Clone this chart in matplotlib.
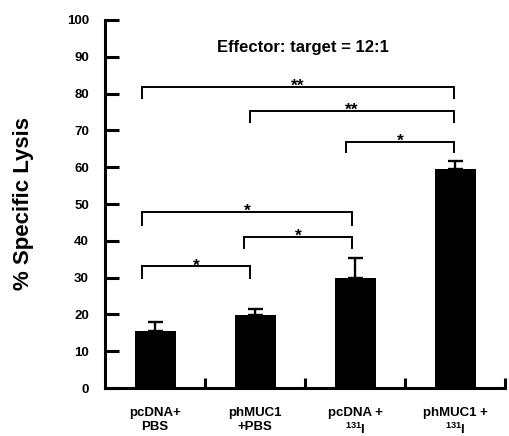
import matplotlib
matplotlib.use("Agg")
import matplotlib.pyplot as plt

plt.rcParams['font.family'] = ['Liberation Sans', 'DejaVu Sans']
plt.rcParams['font.weight'] = 'bold'
plt.rcParams['mathtext.fontset'] = 'custom'
plt.rcParams['mathtext.rm'] = 'Liberation Sans:bold'
plt.rcParams['mathtext.it'] = 'Liberation Sans:bold'
plt.rcParams['mathtext.bf'] = 'Liberation Sans:bold'
plt.rcParams['mathtext.default'] = 'rm'

# ---- data ----
categories = ["pcDNA+\nPBS", "phMUC1\n+PBS", "pcDNA +\n$^{131}$I", "phMUC1 +\n$^{131}$I"]
lysis = [15.5, 19.8, 29.8, 59.6]
lysis_err = [2.3, 1.7, 5.5, 2.1]
y_ticks = [0, 10, 20, 30, 40, 50, 60, 70, 80, 90, 100]
title_text = "Effector: target = 12:1"
ylabel_text = "% Specific Lysis"

# significance brackets: left x, right x, top y, leg bottom y, label
br_x0 = [0.37, 1.45, 2.41, 0.37, 1.39, 0.37]
br_x1 = [3.49, 3.49, 3.49, 2.47, 2.47, 1.45]
br_top = [81.9, 75.4, 66.9, 47.8, 41.1, 33.1]
br_leg = [78.8, 72.3, 64.0, 44.3, 38.0, 29.9]
br_lab = ["**", "**", "*", "*", "*", "*"]

fig = plt.figure(figsize=(5.09, 4.36), dpi=100)
ax = fig.add_axes([105/509, 48/436, 400/509, 368/436])

xpos = [i + 0.5 for i in range(len(lysis))]
ax.bar(xpos, lysis, width=0.41, color='black', zorder=2)
ax.errorbar(xpos, lysis, yerr=[[0]*len(lysis), lysis_err], fmt='none',
            ecolor='black', elinewidth=1.7, capsize=5.4, capthick=1.7, zorder=1)

for x0, x1, yt, yl, lab in zip(br_x0, br_x1, br_top, br_leg, br_lab):
    ax.plot([x0, x0, x1, x1], [yl, yt, yt, yl], color='black', lw=1.4,
            solid_joinstyle='miter', clip_on=False)
    ax.annotate(lab, xy=((x0 + x1) / 2, yt), xytext=(0, -3),
                textcoords='offset points', ha='center', va='baseline',
                fontsize=12.5, fontweight='bold')

ax.text(1.98, 92.4, title_text, ha='center', va='center', fontsize=12,
        fontweight='bold')

ax.set_xlim(0, 4)
ax.set_ylim(0, 100)
ax.set_yticks(y_ticks)
ax.set_yticklabels([str(v) for v in y_ticks], fontsize=9.5, fontweight='bold')
ax.set_xticks([1, 2, 3, 4])
ax.set_xticklabels([])
ax.tick_params(axis='y', direction='in', length=10, width=2.2, pad=11.5)
ax.tick_params(axis='x', direction='in', length=7, width=2.2)

for x, lab in zip(xpos, categories):
    ax.text(x, -0.052, lab, transform=ax.get_xaxis_transform(), ha='center',
            va='top', fontsize=9.5, fontweight='bold', linespacing=1.2)

ax.set_ylabel(ylabel_text, fontsize=16, fontweight='bold')
ax.yaxis.set_label_coords(-0.178, 0.5)

for s in ['top', 'right']:
    ax.spines[s].set_visible(False)
ax.spines['left'].set_linewidth(2.2)
ax.spines['bottom'].set_linewidth(2.2)

fig.savefig("out.png", dpi=100)
